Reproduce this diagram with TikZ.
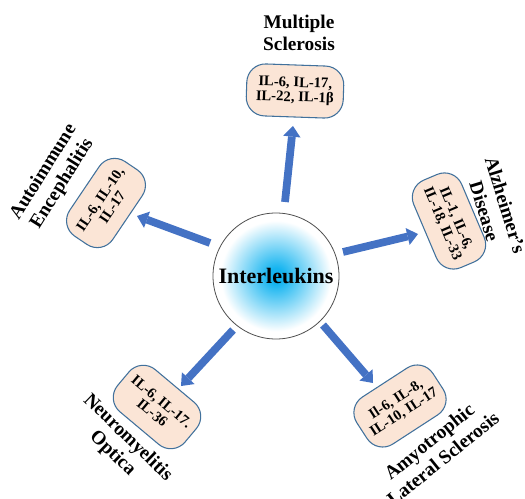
\documentclass[tikz,border=0pt]{standalone}
\usepackage{fontspec}
\setmainfont{Liberation Serif}
\usetikzlibrary{arrows.meta}
\definecolor{boxfill}{HTML}{FBE5D6}
\definecolor{boxline}{HTML}{41719C}
\definecolor{arrblue}{HTML}{4472C4}
\definecolor{glow}{HTML}{14B4F0}
\definecolor{ringcol}{HTML}{505050}
\pgfdeclareradialshading{ilglow}{\pgfpoint{0bp}{0bp}}{color(0bp)=(glow); color(3bp)=(glow); color(22bp)=(white); color(50bp)=(white)}
\begin{document}
\begin{tikzpicture}[x=0.75pt,y=-0.75pt,
  ilbox/.style={draw=boxline, line width=0.8pt, fill=boxfill, rounded corners=14pt,
    align=center, inner sep=0pt, font=\bfseries\fontsize{11}{11}\selectfont},
  distitle/.style={align=center, inner sep=0pt, font=\bfseries\fontsize{14.5}{16.5}\selectfont},
  blockarr/.style={draw=arrblue, line width=5.8pt,
    -{Triangle[width=13pt,length=8pt,line width=0pt]}}]
\useasboundingbox (0,0) rectangle (525,499);

% centre
\node[circle, draw=ringcol, line width=0.6pt, minimum size=94.5pt, shade, shading=ilglow,
      font=\bfseries\fontsize{16.5}{18}\selectfont] (il) at (276,276) {Interleukins};

% boxes
\node[ilbox, minimum width=72.75pt, minimum height=39pt, rotate=-2] (ms) at (295,91) {IL-6, IL-17,\\IL-22, IL-1β};
\node[ilbox, minimum width=71.25pt, minimum height=39pt, rotate=-67] (ad) at (449,221) {IL-1, IL-6,\\IL-18, IL-33};
\node[ilbox, minimum width=67.5pt, minimum height=39pt, rotate=56] (ae) at (106,203) {IL-6, IL-10,\\IL-17};
\node[ilbox, minimum width=66pt, minimum height=41.25pt, rotate=-40] (no) at (157,407) {IL-6, IL-17.\\IL-36};
\node[ilbox, minimum width=68pt, minimum height=42pt, rotate=33] (als) at (400,406) {Il-6, IL-8,\\IL-10, IL-17};

% titles
\node[distitle] (mst) at (299,33) {Multiple\\Sclerosis};
\node[distitle, rotate=-73] (adt) at (495,208) {Alzheimer's\\Disease};
\node[distitle, rotate=58] (aet) at (53,178) {Autoimmune\\Encephalitis};
\node[distitle, rotate=-44] (not) at (120,446) {Neuromyelitis\\Optica};
\node[distitle, rotate=39] (alst) at (436,450) {Amyotrophic\\Lateral Sclerosis};

% arrow ends
\coordinate (msS) at (285,202); \coordinate (msE) at (293,126);
\coordinate (adS) at (343,252); \coordinate (adE) at (418,234);
\coordinate (aeS) at (210,243); \coordinate (aeE) at (137,216);
\coordinate (noS) at (233,330); \coordinate (noE) at (181,386);
\coordinate (alsS) at (323,325); \coordinate (alsE) at (373,383);

\draw[blockarr] (msS) -- (msE);
\draw[blockarr] (adS) -- (adE);
\draw[blockarr] (aeS) -- (aeE);
\draw[blockarr] (noS) -- (noE);
\draw[blockarr] (alsS) -- (alsE);
\end{tikzpicture}
\end{document}
